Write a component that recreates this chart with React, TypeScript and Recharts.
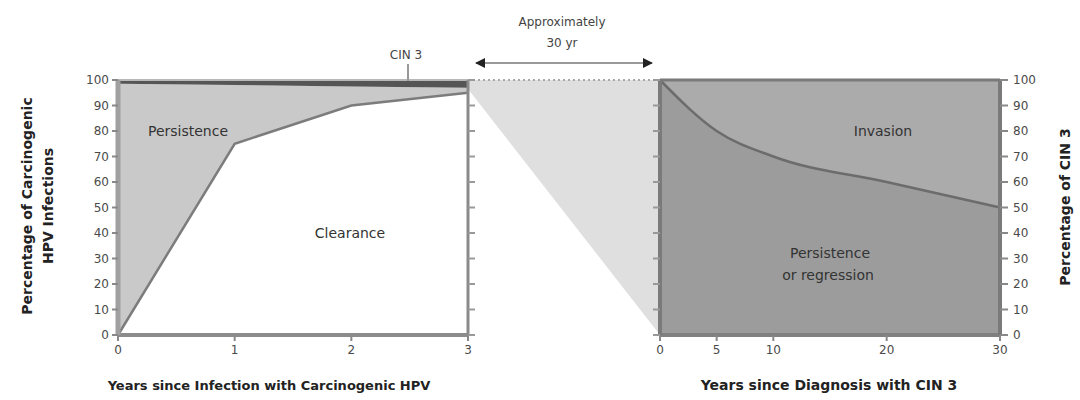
import React from 'react';
import { ComposedChart, Area, Line, XAxis, YAxis, ReferenceLine } from 'recharts';

// left panel: HPV infection course
const infectionYears = [0, 1, 2, 3];
const clearancePct = [0, 75, 90, 95];
const cin3Pct = [1.5, 2, 2.5, 3];

// right panel: CIN 3 course
const diagnosisYears = [0, 5, 10, 20, 30];
const persistRegressPct = [100, 80, 70, 60, 50];

const pctTicks = [0, 10, 20, 30, 40, 50, 60, 70, 80, 90, 100];
const infectionTicks = [0, 1, 2, 3];
const diagnosisTicks = [0, 5, 10, 20, 30];

const leftData = infectionYears.map((year, i) => ({
  year,
  clearance: clearancePct[i],
  persistence: 100 - clearancePct[i] - cin3Pct[i],
  cin3: cin3Pct[i],
}));

const rightData = diagnosisYears.map((year, i) => ({
  year,
  persist: persistRegressPct[i],
  invasion: 100 - persistRegressPct[i],
}));

// layout
const PLOT_TOP = 80;
const PLOT_BOTTOM = 335;
const LEFT_X1 = 468;
const RIGHT_X0 = 660;
const FONT = '"DejaVu Sans", sans-serif';

const tickStyle = { fontSize: 12, fill: '#4a4a4a', fontFamily: FONT };
const blank = () => '';

const App: React.FC = () => {
  const bandBottom = PLOT_TOP + ((cin3Pct[cin3Pct.length - 1] + 0.5) / 100) * (PLOT_BOTTOM - PLOT_TOP);
  return (
    <div style={{ position: 'absolute', left: 0, top: 0, width: 1080, height: 400, background: '#fff', fontFamily: FONT }}>
      {/* connector wedge between panels */}
      <svg width={1080} height={400} style={{ position: 'absolute', left: 0, top: 0 }}>
        <polygon
          points={`${LEFT_X1},${PLOT_TOP} ${RIGHT_X0},${PLOT_TOP} ${RIGHT_X0},${PLOT_BOTTOM} ${LEFT_X1},${bandBottom}`}
          fill="#dfdfdf"
        />
        <line x1={LEFT_X1} x2={RIGHT_X0} y1={PLOT_TOP} y2={PLOT_TOP} stroke="#a8a8a8" strokeWidth={2} strokeDasharray="2 3" />
      </svg>

      <div style={{ position: 'absolute', left: 0, top: 0 }}>
        <ComposedChart width={480} height={400} data={leftData} margin={{ top: PLOT_TOP, right: 0, bottom: 0, left: 0 }}>
          <XAxis
            dataKey="year"
            type="number"
            domain={[0, 3]}
            ticks={infectionTicks}
            height={65}
            axisLine={{ stroke: '#8c8c8c', strokeWidth: 4 }}
            tickLine={{ stroke: '#888', strokeWidth: 2 }}
            tickSize={6}
            tickMargin={4}
            tick={tickStyle}
          />
          <YAxis
            yAxisId="l"
            domain={[0, 100]}
            ticks={pctTicks}
            width={118}
            axisLine={{ stroke: '#a0a0a0', strokeWidth: 5 }}
            tickLine={{ stroke: '#888', strokeWidth: 2 }}
            tickSize={6}
            tickMargin={3}
            tick={tickStyle}
            interval={0}
          />
          <YAxis
            yAxisId="r"
            orientation="right"
            domain={[0, 100]}
            ticks={pctTicks}
            width={12}
            axisLine={{ stroke: '#8a8a8a', strokeWidth: 3 }}
            tickLine={{ stroke: '#999', strokeWidth: 2 }}
            tickSize={7}
            tickFormatter={blank}
            interval={0}
          />
          <Area yAxisId="l" type="linear" dataKey="clearance" stackId="s" fill="#ffffff" fillOpacity={1} stroke="none" isAnimationActive={false} />
          <Area yAxisId="l" type="linear" dataKey="persistence" stackId="s" fill="#c9c9c9" fillOpacity={1} stroke="none" isAnimationActive={false} />
          <Area yAxisId="l" type="linear" dataKey="cin3" stackId="s" fill="#555555" fillOpacity={1} stroke="none" isAnimationActive={false} />
          <Line yAxisId="l" type="linear" dataKey="clearance" stroke="#7c7c7c" strokeWidth={2.5} dot={false} isAnimationActive={false} />
          {/* invisible series so the right-edge axis gets its ticks */}
          <Line yAxisId="r" dataKey="clearance" stroke="none" dot={false} activeDot={false} isAnimationActive={false} />
          <ReferenceLine yAxisId="l" y={100} stroke="#b8b8b8" strokeWidth={2} />
        </ComposedChart>
      </div>

      <div style={{ position: 'absolute', left: 600, top: 0 }}>
        <ComposedChart width={480} height={400} data={rightData} margin={{ top: PLOT_TOP, right: 0, bottom: 0, left: 0 }}>
          <XAxis
            dataKey="year"
            type="number"
            domain={[0, 30]}
            ticks={diagnosisTicks}
            height={65}
            axisLine={{ stroke: '#808080', strokeWidth: 4 }}
            tickLine={{ stroke: '#888', strokeWidth: 2 }}
            tickSize={6}
            tickMargin={4}
            tick={tickStyle}
          />
          <YAxis
            yAxisId="l"
            domain={[0, 100]}
            ticks={pctTicks}
            width={60}
            axisLine={{ stroke: '#7a7a7a', strokeWidth: 4 }}
            tickLine={{ stroke: '#999', strokeWidth: 2 }}
            tickSize={7}
            tickFormatter={blank}
            interval={0}
          />
          <YAxis
            yAxisId="r"
            orientation="right"
            domain={[0, 100]}
            ticks={pctTicks}
            width={80}
            axisLine={{ stroke: '#7a7a7a', strokeWidth: 4 }}
            tickLine={{ stroke: '#888', strokeWidth: 2 }}
            tickSize={8}
            tickMargin={5}
            tick={tickStyle}
            interval={0}
          />
          <Area yAxisId="r" type="monotone" dataKey="persist" stackId="s" fill="#9c9c9c" fillOpacity={1} stroke="none" isAnimationActive={false} />
          <Area yAxisId="r" type="monotone" dataKey="invasion" stackId="s" fill="#ababab" fillOpacity={1} stroke="none" isAnimationActive={false} />
          <Line yAxisId="r" type="monotone" dataKey="persist" stroke="#6c6c6c" strokeWidth={2.5} dot={false} isAnimationActive={false} />
          {/* invisible series so the left-edge axis gets its ticks */}
          <Line yAxisId="l" dataKey="persist" stroke="none" dot={false} activeDot={false} isAnimationActive={false} />
          <ReferenceLine yAxisId="r" y={100} stroke="#7a7a7a" strokeWidth={3} />
        </ComposedChart>
      </div>

      {/* annotations */}
      <svg width={1080} height={400} style={{ position: 'absolute', left: 0, top: 0, pointerEvents: 'none' }} fontFamily={FONT}>
        <defs>
          <marker id="ah" viewBox="0 0 10 10" refX="9" refY="5" markerWidth="5" markerHeight="5" orient="auto-start-reverse">
            <path d="M0,0 L10,5 L0,10 z" fill="#222" />
          </marker>
        </defs>
        <text x={562} y={22} textAnchor="middle" dominantBaseline="central" fontSize={12} fill="#444">Approximately</text>
        <text x={562} y={43} textAnchor="middle" dominantBaseline="central" fontSize={12} fill="#444">30 yr</text>
        <line x1={476} x2={652} y1={63} y2={63} stroke="#9a9a9a" strokeWidth={2} markerStart="url(#ah)" markerEnd="url(#ah)" />

        <text x={406} y={55} textAnchor="middle" dominantBaseline="central" fontSize={12} fill="#444">CIN 3</text>
        <line x1={408} x2={408} y1={64} y2={81} stroke="#999" strokeWidth={2} />

        <g fontSize={14} fill="#333" textAnchor="middle" dominantBaseline="central">
          <text x={188} y={131}>Persistence</text>
          <text x={350} y={233}>Clearance</text>
          <text x={883} y={131}>Invasion</text>
          <text x={830} y={253}>Persistence</text>
          <text x={828} y={275}>or regression</text>
        </g>

        <g fontWeight="bold" fill="#222" textAnchor="middle" dominantBaseline="central">
          <text x={27} y={206} fontSize={14} transform="rotate(-90 27 206)">Percentage of Carcinogenic</text>
          <text x={48} y={206} fontSize={14} transform="rotate(-90 48 206)">HPV Infections</text>
          <text x={1065} y={207} fontSize={14} transform="rotate(-90 1065 207)">Percentage of CIN 3</text>
          <text x={269} y={385} fontSize={13}>Years since Infection with Carcinogenic HPV</text>
          <text x={829} y={385} fontSize={14}>Years since Diagnosis with CIN 3</text>
        </g>
      </svg>
    </div>
  );
};

export default App;
